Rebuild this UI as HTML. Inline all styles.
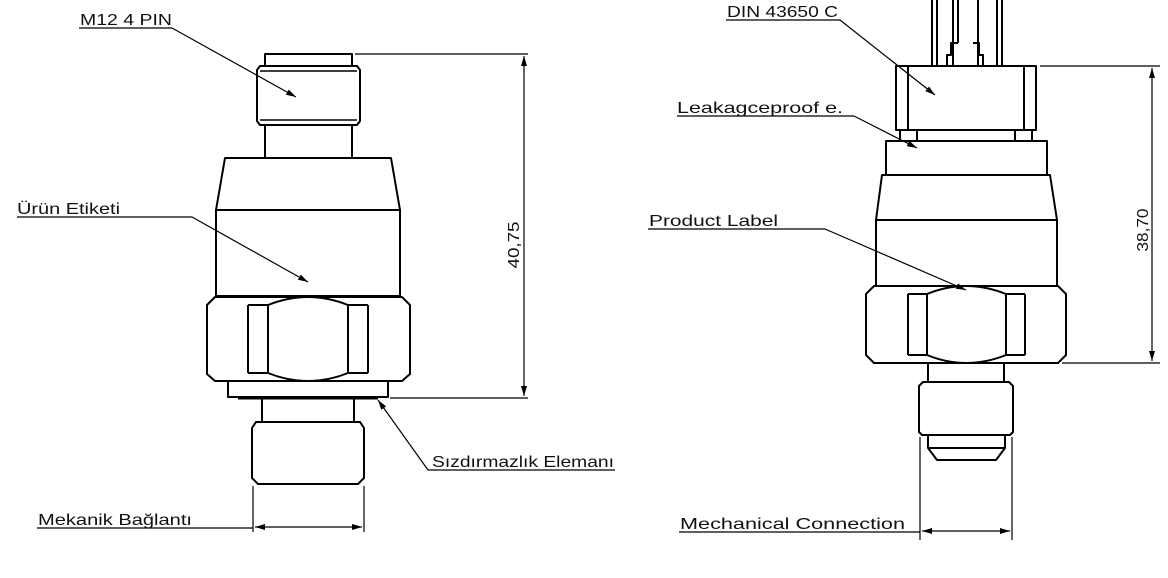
<!DOCTYPE html>
<html><head><meta charset="utf-8"><style>
html,body{margin:0;padding:0;background:#fff}
svg{display:block}
text{font-family:"Liberation Sans",sans-serif;font-size:16px;fill:#111}
</style></head><body>
<svg width="1168" height="578" viewBox="0 0 1168 578" xmlns="http://www.w3.org/2000/svg">
<defs>
<marker id="a" viewBox="0 0 10 6" refX="10" refY="3" markerWidth="10" markerHeight="6" orient="auto" markerUnits="userSpaceOnUse"><path d="M0,0 L10,3 L0,6 z" fill="#000"/></marker>
<marker id="as" viewBox="0 0 10 6" refX="0" refY="3" markerWidth="10" markerHeight="6" orient="auto" markerUnits="userSpaceOnUse"><path d="M10,0 L0,3 L10,6 z" fill="#000"/></marker>
</defs>
<g fill="none" stroke="#000" stroke-width="2" stroke-linejoin="round">
<!-- LEFT DEVICE -->
<rect x="265" y="54" width="87" height="12"/>
<path d="M260,66 H357 L360,70 V121 L357,125 H260 L257,121 V70 Z"/>
<line x1="260" y1="71" x2="357" y2="71" stroke-width="1.5"/>
<line x1="260" y1="120" x2="357" y2="120" stroke-width="1.5"/>
<rect x="265" y="125" width="87" height="33"/>
<path d="M225,158 H391 L400,210 H216 Z"/>
<rect x="216" y="210" width="184" height="86"/>
<path d="M215,297 H402 L410,305 V374 L402,381 H215 L207,374 V305 Z"/>
<path d="M268,305 Q308,289 348,305 M268,373 Q308,389 348,373"/>
<line x1="248" y1="305" x2="248" y2="373"/><line x1="268" y1="305" x2="268" y2="373"/>
<line x1="348" y1="305" x2="348" y2="373"/><line x1="368" y1="305" x2="368" y2="373"/>
<line x1="248" y1="305" x2="268" y2="305"/><line x1="348" y1="305" x2="368" y2="305"/>
<line x1="248" y1="373" x2="268" y2="373"/><line x1="348" y1="373" x2="368" y2="373"/>
<rect x="228" y="381" width="160" height="16"/>
<line x1="238" y1="398" x2="378" y2="398" stroke-width="3"/>
<rect x="262" y="398" width="92" height="24"/>
<path d="M256,422 H360 L364,428 V478 L358,484 H258 L252,478 V428 Z"/>
<!-- left dims -->
<g stroke-width="1.2">
<line x1="355" y1="54" x2="528" y2="54"/>
<line x1="390" y1="398" x2="528" y2="398"/>
<line x1="524" y1="56" x2="524" y2="396" marker-start="url(#as)" marker-end="url(#a)"/>
<line x1="253" y1="486" x2="253" y2="532"/>
<line x1="364" y1="486" x2="364" y2="532"/>
<line x1="255" y1="527" x2="362" y2="527" marker-start="url(#as)" marker-end="url(#a)"/>
<path d="M79,28 H172 L296,97" marker-end="url(#a)"/>
<path d="M17,217 H192 L308,282" marker-end="url(#a)"/>
<path d="M615,470 H428 L378,400" marker-end="url(#a)"/>
<path d="M37,528 H253"/>
</g>
<!-- RIGHT DEVICE -->
<line x1="932" y1="0" x2="932" y2="66"/><line x1="937" y1="0" x2="937" y2="66"/>
<line x1="997" y1="0" x2="997" y2="66"/><line x1="1002" y1="0" x2="1002" y2="66"/>
<path d="M953,0 V66 M978,0 V66 M958,0 V43"/>
<path d="M947,66 V55 H951 V43 H958 M983,66 V55 H979 V43 H973"/>
<rect x="896" y="66" width="140" height="64"/>
<line x1="908" y1="66" x2="908" y2="130"/><line x1="1024" y1="66" x2="1024" y2="130"/>
<path d="M900,130 V141 M917,130 V141 M1015,130 V141 M1032,130 V141"/>
<rect x="886" y="141" width="161" height="34"/>
<path d="M882,175 H1050 L1057,220 H876 Z"/>
<rect x="876" y="220" width="181" height="66"/>
<path d="M874,286 H1058 L1066,294 V355 L1058,363 H874 L866,355 V294 Z"/>
<path d="M927,294 Q966,278 1006,294 M927,355 Q966,371 1006,355"/>
<line x1="908" y1="294" x2="908" y2="355"/><line x1="927" y1="294" x2="927" y2="355"/>
<line x1="1006" y1="294" x2="1006" y2="355"/><line x1="1025" y1="294" x2="1025" y2="355"/>
<line x1="908" y1="294" x2="927" y2="294"/><line x1="1006" y1="294" x2="1025" y2="294"/>
<line x1="908" y1="355" x2="927" y2="355"/><line x1="1006" y1="355" x2="1025" y2="355"/>
<rect x="928" y="363" width="76" height="19"/>
<path d="M923,382 H1009 L1013,386 V432 L1010,435 H922 L919,432 V386 Z"/>
<path d="M928,435 V448 H1005 V435 M928,448 L937,460 H996 L1005,448"/>
<!-- right dims -->
<g stroke-width="1.2">
<line x1="1040" y1="66" x2="1160" y2="66"/>
<line x1="1062" y1="363" x2="1160" y2="363"/>
<line x1="1152" y1="68" x2="1152" y2="361" marker-start="url(#as)" marker-end="url(#a)"/>
<line x1="920" y1="437" x2="920" y2="540"/>
<line x1="1012" y1="437" x2="1012" y2="540"/>
<line x1="922" y1="531" x2="1010" y2="531" marker-start="url(#as)" marker-end="url(#a)"/>
<path d="M726,20 H840 L935,95" marker-end="url(#a)"/>
<path d="M677,116 H854 L917,148" marker-end="url(#a)"/>
<path d="M648,229 H825 L966,290" marker-end="url(#a)"/>
<path d="M679,532 H920"/>
</g>
</g>
<text x="80" y="25" textLength="92" lengthAdjust="spacingAndGlyphs">M12 4 PIN</text>
<text x="17" y="214" textLength="103" lengthAdjust="spacingAndGlyphs">Ürün Etiketi</text>
<text x="432" y="467" textLength="182" lengthAdjust="spacingAndGlyphs">Sızdırmazlık Elemanı</text>
<text x="38" y="525" textLength="154" lengthAdjust="spacingAndGlyphs">Mekanik Bağlantı</text>
<text transform="translate(519,245) rotate(-90)" text-anchor="middle" textLength="47" lengthAdjust="spacingAndGlyphs">40,75</text>
<text x="727" y="17" textLength="111" lengthAdjust="spacingAndGlyphs">DIN 43650 C</text>
<text x="677" y="113" textLength="166" lengthAdjust="spacingAndGlyphs">Leakagceproof e.</text>
<text x="649" y="226" textLength="129" lengthAdjust="spacingAndGlyphs">Product Label</text>
<text x="680" y="529" textLength="225" lengthAdjust="spacingAndGlyphs">Mechanical Connection</text>
<text transform="translate(1148,230) rotate(-90)" text-anchor="middle" textLength="43" lengthAdjust="spacingAndGlyphs">38,70</text>
</svg>
</body></html>
